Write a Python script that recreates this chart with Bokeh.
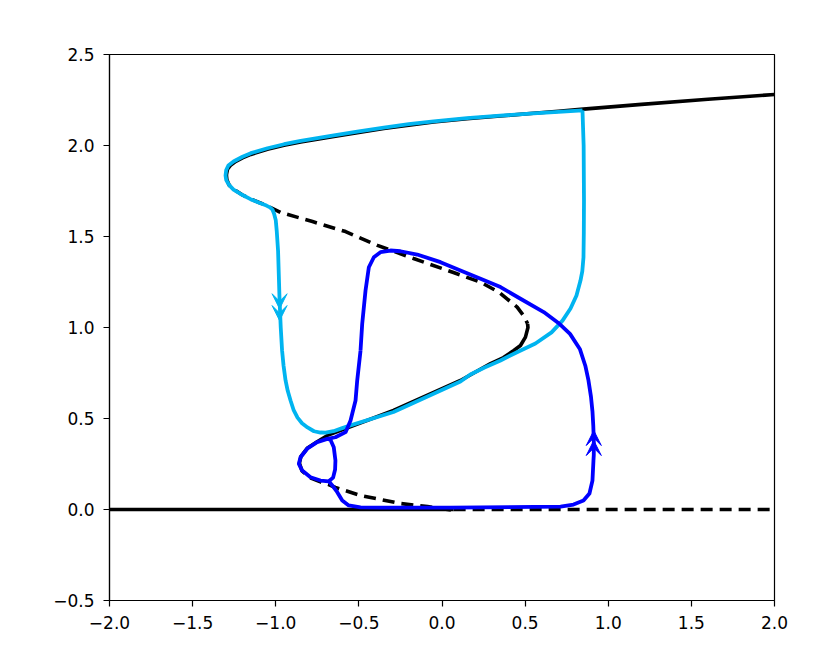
from bokeh.plotting import figure
from bokeh.models import Range1d, FixedTicker, Arrow, VeeHead, ColumnDataSource
from bokeh.embed import file_html
from bokeh.resources import INLINE

# ---- axis ticks ----
x_ticks = [-2.0, -1.5, -1.0, -0.5, 0.0, 0.5, 1.0, 1.5, 2.0]
x_tick_labels = ["\u22122.0", "\u22121.5", "\u22121.0", "\u22120.5", "0.0", "0.5", "1.0", "1.5", "2.0"]
y_ticks = [-0.5, 0.0, 0.5, 1.0, 1.5, 2.0, 2.5]
y_tick_labels = ["\u22120.5", "0.0", "0.5", "1.0", "1.5", "2.0", "2.5"]

# ---- bifurcation branches (black) ----
zero_stable_x = [-2.0, 0.07]
zero_stable_y = [0.0, 0.0]
zero_unstable_x = [0.07, 2.0]
zero_unstable_y = [0.0, 0.0]

upper_stable_x = [2.0, 1.6, 1.2, 0.85, 0.70, 0.55, 0.35, 0.15, -0.05, -0.20, -0.35, -0.50, -0.65, -0.75,
                  -0.85, -0.95, -1.05, -1.15, -1.20, -1.240, -1.270, -1.290, -1.297]
upper_stable_y = [2.280, 2.254, 2.226, 2.200, 2.188, 2.177, 2.162, 2.147, 2.129, 2.112, 2.093, 2.072, 2.050, 2.034,
                  2.019, 2.001, 1.979, 1.951, 1.932, 1.913, 1.893, 1.870, 1.838]

upper_unstable_x = [-1.297, -1.294, -1.280, -1.254, -1.200, -1.152, -1.100, -1.056, -0.971, -0.779, -0.580,
                    -0.388, -0.171, 0.069, 0.232, 0.342, 0.452, 0.495, 0.515]
upper_unstable_y = [1.838, 1.812, 1.782, 1.760, 1.728, 1.706, 1.687, 1.671, 1.632, 1.582, 1.527,
                    1.451, 1.379, 1.302, 1.249, 1.194, 1.112, 1.060, 1.020]

middle_stable_x = [0.515, 0.517, 0.502, 0.472, 0.432, 0.370, 0.292, 0.111, -0.292, -0.689, -0.751, -0.811, -0.848, -0.858]
middle_stable_y = [1.020, 1.000, 0.947, 0.901, 0.874, 0.835, 0.802, 0.709, 0.544, 0.407, 0.372, 0.336, 0.292, 0.255]

lower_unstable_x = [-0.858, -0.842, -0.795, -0.735, -0.685, -0.641, -0.490, -0.250, -0.087, 0.070]
lower_unstable_y = [0.255, 0.212, 0.175, 0.153, 0.138, 0.121, 0.077, 0.033, 0.016, -0.005]

# ---- trajectory 1 (light blue) ----
cyan_x = [0.845, 0.852, 0.854, 0.853, 0.851, 0.844, 0.833, 0.809, 0.773, 0.725, 0.659, 0.562, 0.448, 0.352,
          0.256, 0.171, 0.111, -0.292, -0.550, -0.600, -0.653, -0.700, -0.731, -0.770, -0.809, -0.842,
          -0.869, -0.893, -0.911, -0.928, -0.941, -0.953, -0.962, -0.970, -0.977, -0.986, -0.994, -1.000,
          -1.010, -1.020, -1.035, -1.056, -1.100, -1.152, -1.200, -1.254, -1.280, -1.298, -1.302, -1.298,
          -1.285, -1.254, -1.200, -1.150, -1.050, -0.950, -0.850, -0.750, -0.650, -0.500, -0.350, -0.200,
          -0.050, 0.150, 0.350, 0.550, 0.700, 0.845]
cyan_y = [2.193, 2.000, 1.698, 1.520, 1.385, 1.310, 1.258, 1.176, 1.104, 1.038, 0.973, 0.912, 0.863, 0.819,
          0.780, 0.742, 0.703, 0.536, 0.462, 0.447, 0.430, 0.422, 0.423, 0.430, 0.451, 0.474,
          0.505, 0.548, 0.599, 0.652, 0.709, 0.790, 0.874, 1.000, 1.150, 1.420, 1.530, 1.590,
          1.625, 1.648, 1.660, 1.670, 1.686, 1.705, 1.728, 1.758, 1.782, 1.810, 1.835, 1.865,
          1.890, 1.912, 1.938, 1.958, 1.985, 2.007, 2.025, 2.040, 2.056, 2.078, 2.098, 2.117,
          2.133, 2.150, 2.164, 2.176, 2.185, 2.193]

# ---- trajectory 2 (blue) ----
blue_x = [-0.490, -0.510, -0.520, -0.540, -0.550, -0.580, -0.641, -0.690, -0.751, -0.811, -0.851, -0.861,
          -0.841, -0.791, -0.731, -0.681, -0.655, -0.643, -0.641, -0.651, -0.671, -0.690, -0.751, -0.811,
          -0.851, -0.861, -0.841, -0.791, -0.731, -0.681, -0.660, -0.630, -0.600, -0.561, -0.490, -0.370,
          0.050, 0.713, 0.791, 0.851, 0.887, 0.905, 0.911, 0.913, 0.913, 0.910, 0.905, 0.896, 0.881,
          0.862, 0.830, 0.770, 0.700, 0.612, 0.472, 0.352, 0.232, 0.111, -0.009, -0.149, -0.250, -0.310,
          -0.370, -0.410, -0.440, -0.460, -0.480, -0.490]
blue_y = [0.874, 0.709, 0.599, 0.526, 0.489, 0.425, 0.397, 0.388, 0.370, 0.334, 0.287, 0.251,
          0.214, 0.177, 0.159, 0.155, 0.175, 0.220, 0.269, 0.342, 0.383, 0.388, 0.370, 0.334,
          0.287, 0.251, 0.214, 0.177, 0.159, 0.155, 0.132, 0.095, 0.049, 0.022, 0.012, 0.010,
          0.010, 0.016, 0.027, 0.049, 0.088, 0.159, 0.269, 0.300, 0.380, 0.460, 0.540, 0.620, 0.709,
          0.790, 0.880, 0.965, 1.025, 1.085, 1.158, 1.222, 1.268, 1.313, 1.359, 1.401, 1.419, 1.423,
          1.414, 1.386, 1.331, 1.203, 1.020, 0.874]

# ---- direction arrows (tip positions) ----
cyan_arrow_x = [-0.977, -0.977]
cyan_arrow_y = [1.103, 1.038]
cyan_arrow_dir = -1   # pointing down
blue_arrow_x = [0.913, 0.913]
blue_arrow_y = [0.379, 0.434]
blue_arrow_dir = 1    # pointing up

BLACK = "#000000"
CYAN = "#00b4f0"
BLUE = "#0000ff"
FONT = "DejaVu Sans"

p = figure(
    frame_width=665, frame_height=546,
    min_border_left=109, min_border_right=40, min_border_top=54, min_border_bottom=46,
    x_range=Range1d(-2.0, 2.0), y_range=Range1d(-0.5, 2.5),
    output_backend="svg", toolbar_location=None,
)
p.background_fill_color = "white"
p.border_fill_color = "white"
p.outline_line_color = "black"
p.outline_line_width = 1.2
p.xgrid.visible = False
p.ygrid.visible = False

for ax, ticks, labels in ((p.xaxis[0], x_ticks, x_tick_labels), (p.yaxis[0], y_ticks, y_tick_labels)):
    ax.ticker = FixedTicker(ticks=ticks)
    ax.major_label_overrides = {t: l for t, l in zip(ticks, labels)}
    ax.minor_tick_line_color = None
    ax.major_tick_in = 0
    ax.major_tick_out = 6
    ax.major_tick_line_color = "black"
    ax.major_tick_line_width = 1.2
    ax.axis_line_color = "black"
    ax.axis_line_width = 1.2
    ax.major_label_text_font = FONT
    ax.major_label_text_font_size = "17px"
    ax.major_label_text_color = "black"
p.xaxis.major_label_standoff = 9
p.yaxis.major_label_standoff = 9

LW_K = 3.6
LW_T = 3.8
DASH = "12 7"

p.line(zero_stable_x, zero_stable_y, line_color=BLACK, line_width=LW_K)
p.line(zero_unstable_x, zero_unstable_y, line_color=BLACK, line_width=LW_K, line_dash=DASH)
p.line(upper_stable_x, upper_stable_y, line_color=BLACK, line_width=LW_K, line_join="round")
p.line(upper_unstable_x, upper_unstable_y, line_color=BLACK, line_width=LW_K, line_dash=DASH)
p.line(middle_stable_x, middle_stable_y, line_color=BLACK, line_width=LW_K, line_join="round")
p.line(lower_unstable_x, lower_unstable_y, line_color=BLACK, line_width=LW_K, line_dash=DASH)

p.line(cyan_x, cyan_y, line_color=CYAN, line_width=LW_T, line_join="round")
p.line(blue_x, blue_y, line_color=BLUE, line_width=LW_T, line_join="round")


def add_arrows(xs, ys, direction, color):
    src = ColumnDataSource(dict(
        x_end=xs, y_end=ys,
        x_start=xs, y_start=[y - direction * 0.05 for y in ys],
    ))
    p.add_layout(Arrow(
        end=VeeHead(size=15, fill_color=color, line_color=color, line_width=1),
        x_start="x_start", y_start="y_start", x_end="x_end", y_end="y_end",
        source=src, line_alpha=0,
    ))


add_arrows(cyan_arrow_x, cyan_arrow_y, cyan_arrow_dir, CYAN)
add_arrows(blue_arrow_x, blue_arrow_y, blue_arrow_dir, BLUE)

open("out.html", "w").write(file_html(p, INLINE))
